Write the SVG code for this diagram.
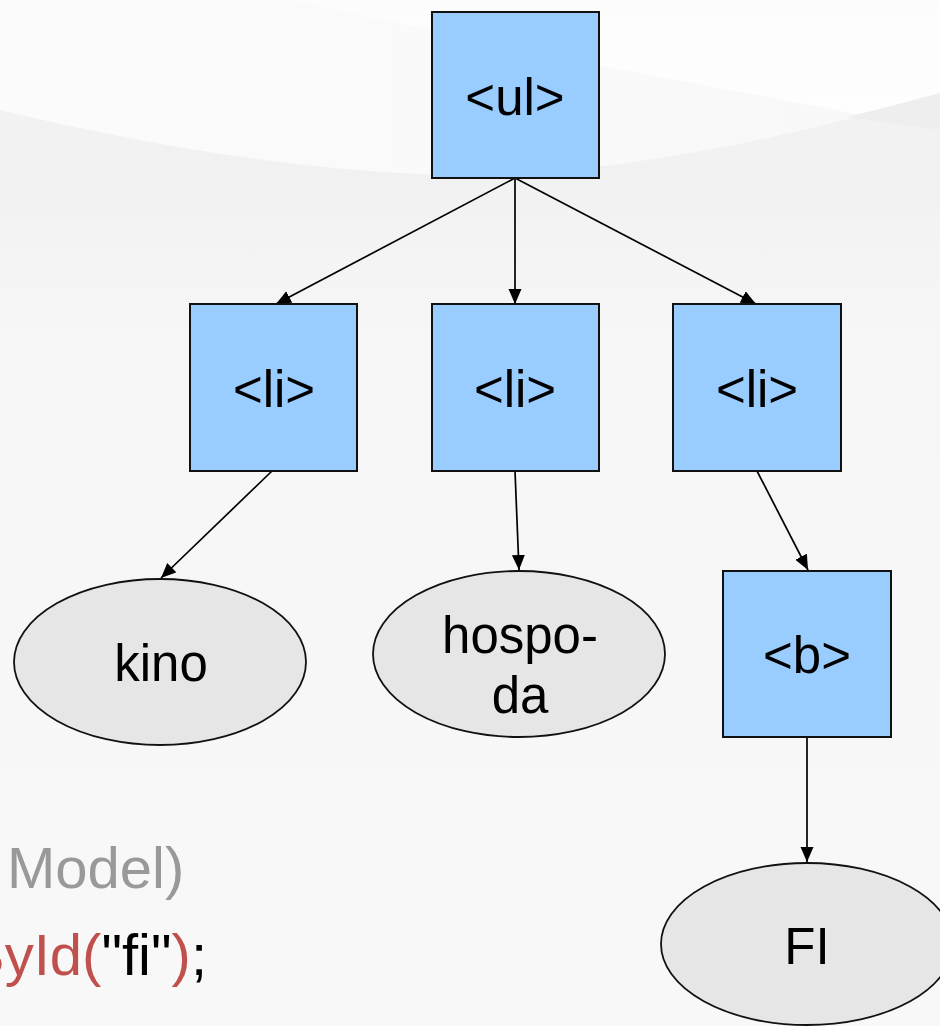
<svg xmlns="http://www.w3.org/2000/svg" width="940" height="1026" viewBox="0 0 940 1026">
  <defs>
    <linearGradient id="bgFade" x1="0" y1="0" x2="0" y2="1026" gradientUnits="userSpaceOnUse">
      <stop offset="0" stop-color="#f4f4f4"/>
      <stop offset="0.17" stop-color="#f1f1f1"/>
      <stop offset="0.32" stop-color="#f6f6f6"/>
      <stop offset="1" stop-color="#f8f8f8"/>
    </linearGradient>
    <linearGradient id="bandFade" x1="0" y1="0" x2="1" y2="0">
      <stop offset="0" stop-color="#fbfbfb"/>
      <stop offset="1" stop-color="#f8f8f8"/>
    </linearGradient>
    <linearGradient id="topFade" x1="0" y1="0" x2="0" y2="1">
      <stop offset="0" stop-color="#fcfcfc"/>
      <stop offset="1" stop-color="#fefefe"/>
    </linearGradient>
    <marker id="arrow" markerUnits="userSpaceOnUse" markerWidth="16" markerHeight="14" refX="15" refY="6.5" orient="auto">
      <path d="M0,0 L15,6.5 L0,13 Z" fill="#000"/>
    </marker>
    <style>
      .box { fill: #99ccff; stroke: #111; stroke-width: 2; }
      .leaf { fill: #e6e6e6; stroke: #111; stroke-width: 1.8; }
      .label { font-family: "Liberation Sans", Arial, sans-serif; font-size: 51px; fill: #000; text-anchor: middle; }
      .edge { stroke: #000; stroke-width: 1.7; fill: none; marker-end: url(#arrow); }
      .code { font-family: "Liberation Sans", Arial, sans-serif; font-size: 58px; }
    </style>
  </defs>

  <!-- slide background with soft swooshes -->
  <g id="background">
    <rect x="0" y="0" width="940" height="1026" fill="url(#bgFade)"/>
    <path d="M0,0 L940,0 L940,93 Q720,160 520,174 Q300,182 0,110 Z" fill="url(#bandFade)"/>
    <path d="M290,0 L940,0 L940,130 Q760,95 600,66 Q430,30 290,0 Z" fill="url(#topFade)"/>
    <path d="M847,117 Q900,104 940,93 L940,130 Q895,124 847,117 Z" fill="#eeeeee"/>
  </g>

  <!-- code caption -->
  <g id="caption">
    <text class="code" x="7" y="888" fill="#999999">Model)</text>
    <text class="code" x="-34" y="975"><tspan fill="#c0504d">ById(</tspan><tspan fill="#000">"fi"</tspan><tspan fill="#c0504d">)</tspan><tspan fill="#000">;</tspan></text>
  </g>

  <!-- connectors -->
  <g id="connectors">
    <line class="edge" x1="515" y1="178" x2="276" y2="304"/>
    <line class="edge" x1="515" y1="178" x2="515" y2="304"/>
    <line class="edge" x1="515" y1="178" x2="756" y2="304"/>
    <line class="edge" x1="272" y1="471" x2="161" y2="578"/>
    <line class="edge" x1="515" y1="471" x2="519" y2="570"/>
    <line class="edge" x1="757" y1="471" x2="808" y2="570"/>
    <line class="edge" x1="807" y1="737" x2="807" y2="862"/>
    <polygon points="509,162 500,174 515,178" fill="#000"/>
  </g>

  <!-- nodes -->
  <g id="node-ul">
    <rect class="box" x="432" y="12" width="167" height="166"/>
    <text class="label" x="515" y="115">&lt;ul&gt;</text>
  </g>
  <g id="node-li1">
    <rect class="box" x="190" y="304" width="167" height="167"/>
    <text class="label" x="274" y="407">&lt;li&gt;</text>
  </g>
  <g id="node-li2">
    <rect class="box" x="432" y="304" width="167" height="167"/>
    <text class="label" x="515" y="407">&lt;li&gt;</text>
  </g>
  <g id="node-li3">
    <rect class="box" x="673" y="304" width="168" height="167"/>
    <text class="label" x="757" y="407">&lt;li&gt;</text>
  </g>
  <g id="node-b">
    <rect class="box" x="723" y="571" width="168" height="166"/>
    <text class="label" x="807" y="673">&lt;b&gt;</text>
  </g>
  <g id="node-kino">
    <ellipse class="leaf" cx="160" cy="662" rx="146" ry="83"/>
    <text class="label" x="161" y="681">kino</text>
  </g>
  <g id="node-hospoda">
    <ellipse class="leaf" cx="519" cy="654" rx="146" ry="83"/>
    <text class="label" x="520" y="653">hospo-</text>
    <text class="label" x="520" y="713">da</text>
  </g>
  <g id="node-fi">
    <ellipse class="leaf" cx="807" cy="944" rx="146" ry="81"/>
    <text class="label" x="807" y="964">FI</text>
  </g>
</svg>
